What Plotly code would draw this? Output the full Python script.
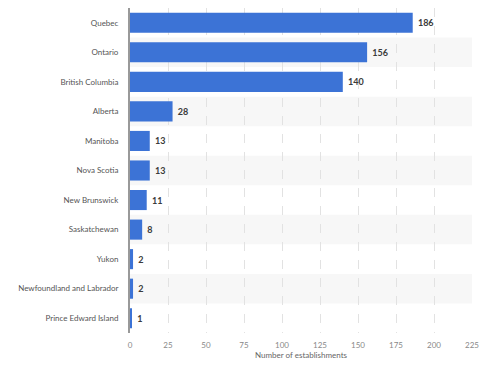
import plotly.graph_objects as go

provinces = ["Quebec", "Ontario", "British Columbia", "Alberta", "Manitoba",
             "Nova Scotia", "New Brunswick", "Saskatchewan", "Yukon",
             "Newfoundland and Labrador", "Prince Edward Island"]
establishments = [186, 156, 140, 28, 13, 13, 11, 8, 2, 2, 1]
x_ticks = [0, 25, 50, 75, 100, 125, 150, 175, 200, 225]

fig = go.Figure()
fig.add_trace(go.Bar(
    x=establishments, y=provinces, orientation="h",
    marker=dict(color="#3c73d6", line=dict(width=0)),
    text=[" " + str(v) for v in establishments], textposition="outside",
    textfont=dict(family="Lato, DejaVu Sans, sans-serif", size=9,
                  color="#3a3a3a", weight="bold"),
    cliponaxis=False, width=0.68, hoverinfo="skip",
))

shapes = []
for i in range(len(provinces)):
    if i % 2 == 1:
        shapes.append(dict(type="rect", xref="paper", yref="y", x0=0, x1=1,
                           y0=i - 0.5, y1=i + 0.5, fillcolor="#f7f7f7",
                           line=dict(width=0), layer="below"))

fig.update_layout(
    width=480, height=365,
    margin=dict(l=130, r=8, t=8, b=32),
    paper_bgcolor="white", plot_bgcolor="white",
    showlegend=False, shapes=shapes,
    font=dict(family="Lato, DejaVu Sans, sans-serif", color="#666666", size=8),
    xaxis=dict(range=[0, 225], tickvals=x_ticks, showgrid=True,
               gridcolor="#e2e2e2", griddash="dash", gridwidth=1,
               zeroline=False, tickfont=dict(size=8, color="#888888"),
               title=dict(text="Number of establishments", standoff=3,
                          font=dict(size=8, color="#666666")),
               ticks="outside", ticklen=4, tickcolor="rgba(0,0,0,0)",
               automargin=False),
    yaxis=dict(autorange="reversed", showline=True, linecolor="#999999",
               linewidth=2, ticks="outside", ticklen=8, tickcolor="rgba(0,0,0,0)",
               tickfont=dict(size=8, color="#555555"), automargin=False),
)

fig.write_html(
    "out.html",
    config={"displayModeBar": False},
    post_script="document.body.style.margin='0';document.body.style.overflow='hidden';",
)
